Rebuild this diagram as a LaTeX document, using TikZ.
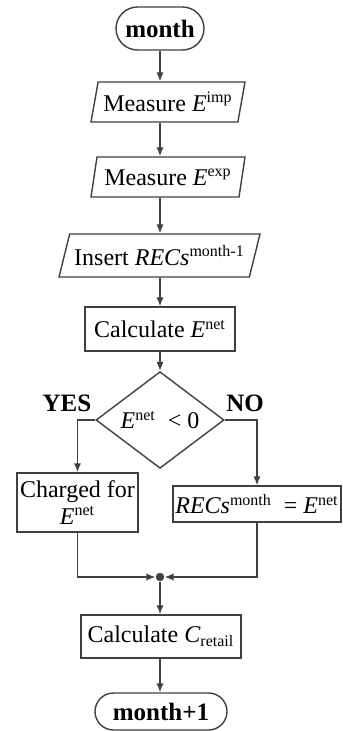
\documentclass[tikz,border=0pt]{standalone}
\usepackage{fontspec}
\setmainfont{Liberation Serif}
\usetikzlibrary{arrows.meta,positioning,shapes.geometric,shapes.misc}
\definecolor{FlowLine}{HTML}{404040}

\begin{document}
\begin{tikzpicture}[
    x=0.5pt,y=-0.5pt,
    font=\fontsize{12}{13.5}\selectfont,
    every node/.style={inner sep=0pt},
    base/.style={draw=FlowLine,line width=0.7pt,fill=white,align=center},
    termbox/.style={base,rounded rectangle,minimum height=21.5pt,font=\fontsize{12.5}{14}\selectfont\bfseries},
    iobox/.style={base,trapezium,trapezium stretches body,
      trapezium left angle=70,trapezium right angle=110,minimum height=20pt},
    procbox/.style={base,rectangle},
    testbox/.style={base,diamond,minimum width=64pt,minimum height=37pt},
    flow/.style={draw=FlowLine,line width=0.7pt,-{Latex[length=4.5pt,width=3.6pt]}},
    branch/.style={font=\fontsize{12.5}{14}\selectfont\bfseries}
  ]
    \useasboundingbox (0,0) rectangle (342,731);

    % Start
    \node[termbox,minimum width=44pt] (start) at (160,28.5) {month};

    % Inputs
    \node[iobox,minimum width=77pt] (imp) at (168,102) {Measure \textit{E}\textsuperscript{imp}};
    \node[iobox,minimum width=77pt] (exp) at (168,177) {Measure \textit{E}\textsuperscript{exp}};
    \node[iobox,minimum width=100.5pt,minimum height=21.5pt,
      trapezium left angle=62,trapezium right angle=118] (recin) at (159.5,255.5)
      {Insert \textit{RECs}\textsuperscript{month-1}};

    % Net energy and test
    \node[procbox,minimum width=75pt,minimum height=22pt] (net) at (160,329) {Calculate \textit{E}\textsuperscript{net}};
    \node[testbox] (test) at (160,420) {\textit{E}\textsuperscript{net} \ < 0};
    \node[branch] (yes) at (67,403) {YES};
    \node[branch] (no) at (245,403) {NO};

    % Branches
    \node[procbox,minimum width=60.5pt,minimum height=29.5pt] (charge) at (77.5,502.5)
      {Charged for\\\textit{E}\textsuperscript{net}};
    \node[procbox,minimum width=84pt,minimum height=18pt] (store) at (257,504)
      {\textit{RECs}\textsuperscript{month} \ = \textit{E}\textsuperscript{net}};

    % Merge and cost
    \node[circle,fill=FlowLine,minimum size=4.2pt] (merge) at (160,577) {};
    \node[procbox,minimum width=80pt,minimum height=21.5pt] (cost) at (161,636.5)
      {Calculate \textit{C}\textsubscript{retail}};
    \node[termbox,minimum width=66pt,minimum height=18.5pt] (stop) at (161,711.5) {month+1};

    % Connectors
    \draw[flow] (start.south) -- (start.south |- imp.north);
    \draw[flow] (start.south |- imp.south) -- (start.south |- exp.north);
    \draw[flow] (start.south |- exp.south) -- (start.south |- recin.north);
    \draw[flow] (start.south |- recin.south) -- (net.north);
    \draw[flow] (net.south) -- (test.north);
    \draw[flow] (test.west) -| (charge.north);
    \draw[flow] (test.east) -| (store.north);
    \draw[flow] (charge.south) |- (merge.west);
    \draw[flow] (store.south) |- (merge.east);
    \draw[flow] (merge.south) -- (merge.south |- cost.north);
    \draw[flow] (merge.south |- cost.south) -- (merge.south |- stop.north);
  \end{tikzpicture}
\end{document}
